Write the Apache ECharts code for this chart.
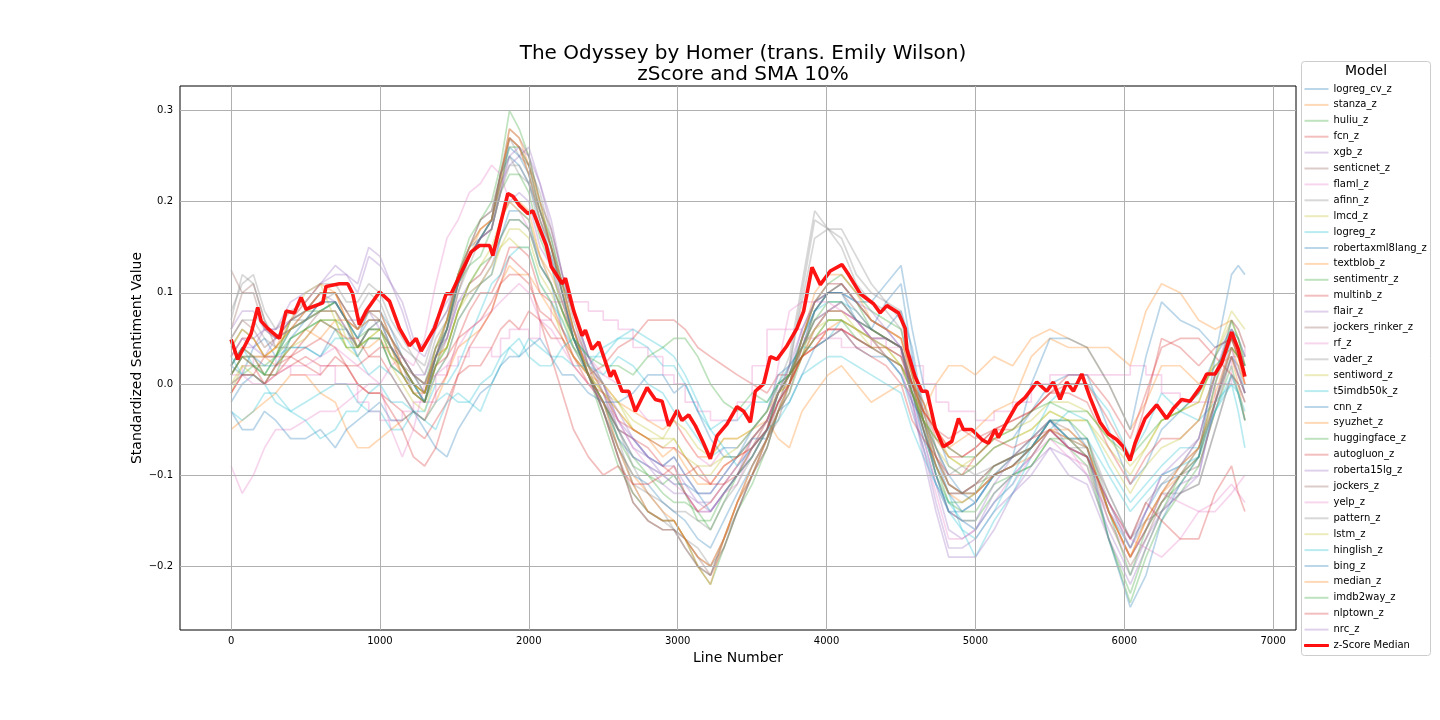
<!DOCTYPE html>
<html><head><meta charset="utf-8">
<script src="https://cdn.jsdelivr.net/npm/echarts@6/dist/echarts.min.js"></script>
<style>html,body{margin:0;padding:0;background:#fff}#c{width:1440px;height:720px}</style>
</head><body><div id="c"></div>
<script>
// sample positions (line numbers) and the in-between positions
const lineNumbers = [0,150,300,500,700,850,1000,1150,1300,1450,1600,1750,1870,2000,2150,2300,2500,2700,2900,3050,3220,3400,3600,3750,3920,4100,4300,4500,4650,4820,5000,5250,5500,5750,6040,6250,6500,6720,6810];
const lineNumbersMid = [75,225,400,600,775,925,1075,1225,1375,1525,1675,1810,1935,2075,2225,2400,2600,2800,2975,3135,3310,3500,3675,3835,4010,4200,4400,4575,4735,4910,5125,5375,5625,5895,6145,6375,6610,6765];

const logreg_cv_z = [0.02,0.04,0.03,0.07,0.09,0.05,0.08,0.03,-0.01,0.07, 0.15,0.18,0.25,0.22,0.14,0.05,-0.02,-0.08,-0.10,-0.11, -0.14,-0.10,-0.05,0.00,0.09,0.10,0.07,0.08,-0.03,-0.12, -0.13,-0.09,-0.04,-0.07,-0.18,-0.11,-0.07,0.03,-0.01];
const logreg_cv_z_mid = [0.01,0.05,0.06,0.08,0.07,0.08,0.06,0.01,0.03,0.12, 0.16,0.23,0.24,0.18,0.10,0.01,-0.06,-0.09,-0.11,-0.12, -0.12,-0.08,-0.02,0.05,0.10,0.09,0.06,0.04,-0.08,-0.14, -0.10,-0.07,-0.04,-0.14,-0.14,-0.10,-0.02,0.02];
const stanza_z = [-0.05,-0.03,-0.01,0.01,-0.02,-0.07,-0.06,-0.04,-0.04,0.01, 0.05,0.08,0.13,0.12,0.08,0.03,0.00,-0.03,-0.05,-0.06, -0.08,-0.06,-0.04,-0.07,-0.01,0.02,-0.02,0.00,-0.03,0.02, 0.01,0.02,0.06,0.04,-0.05,0.02,0.00,0.03,-0.04];
const stanza_z_mid = [-0.04,-0.02,0.01,-0.01,-0.05,-0.07,-0.05,-0.03,-0.02,0.04, 0.06,0.11,0.12,0.10,0.06,0.01,-0.02,-0.04,-0.04,-0.08, -0.06,-0.05,-0.06,-0.03,0.01,0.00,-0.01,-0.01,0.00,0.02, 0.03,0.05,0.05,0.00,-0.02,0.02,0.02,0.00];
const huliu_z = [0.00,0.02,0.03,0.07,0.09,0.04,0.06,0.02,-0.02,0.06, 0.16,0.20,0.30,0.25,0.15,0.05,-0.04,-0.12,-0.15,-0.17, -0.22,-0.14,-0.07,-0.01,0.08,0.11,0.06,0.04,-0.05,-0.14, -0.15,-0.10,-0.06,-0.09,-0.24,-0.15,-0.09,0.02,-0.04];
const huliu_z_mid = [0.01,0.02,0.06,0.08,0.07,0.06,0.04,0.00,0.02,0.12, 0.18,0.24,0.28,0.20,0.10,0.01,-0.09,-0.14,-0.15,-0.20, -0.18,-0.11,-0.03,0.03,0.10,0.09,0.05,0.00,-0.10,-0.15, -0.12,-0.09,-0.07,-0.17,-0.19,-0.12,-0.03,-0.01];
const fcn_z = [0.02,0.03,0.01,0.03,0.02,0.00,-0.01,-0.03,-0.06,-0.02, 0.02,0.04,0.07,0.08,0.05,0.03,0.02,0.05,0.07,0.06, 0.03,0.01,-0.01,0.01,0.04,0.06,0.04,0.02,-0.03,-0.06, -0.06,-0.04,-0.01,0.01,-0.06,0.04,0.05,0.01,-0.02];
const fcn_z_mid = [0.04,0.01,0.02,0.02,0.02,-0.01,-0.02,-0.05,-0.04,0.01, 0.02,0.06,0.06,0.07,0.05,0.01,0.04,0.07,0.07,0.04, 0.02,0.00,0.01,0.03,0.05,0.05,0.03,0.00,-0.05,-0.05, -0.05,-0.03,0.01,-0.02,-0.01,0.05,0.03,0.00];
const xgb_z = [0.06,0.08,0.06,0.10,0.13,0.11,0.14,0.09,0.04,0.09, 0.14,0.17,0.24,0.26,0.17,0.08,0.00,-0.07,-0.09,-0.10, -0.12,-0.08,-0.04,0.01,0.09,0.11,0.07,0.04,-0.07,-0.18, -0.17,-0.12,-0.07,-0.10,-0.21,-0.14,-0.10,0.05,0.01];
const xgb_z_mid = [0.08,0.06,0.09,0.11,0.12,0.15,0.11,0.05,0.07,0.11, 0.16,0.22,0.25,0.22,0.12,0.03,-0.04,-0.08,-0.08,-0.12, -0.10,-0.06,-0.01,0.06,0.10,0.09,0.06,-0.02,-0.13,-0.18, -0.14,-0.10,-0.08,-0.16,-0.17,-0.11,-0.02,0.03];
const senticnet_z = [0.125,0.11,0.04,0.06,0.08,0.04,0.06,0.02,-0.01,0.05, 0.14,0.17,0.27,0.23,0.15,0.06,-0.03,-0.13,-0.16,-0.17, -0.20,-0.13,-0.06,0.00,0.07,0.09,0.05,0.04,-0.05,-0.12, -0.11,-0.09,-0.05,-0.08,-0.19,-0.13,-0.09,0.03,-0.01];
const senticnet_z_mid = [0.10,0.07,0.04,0.08,0.06,0.06,0.04,0.01,0.02,0.10, 0.16,0.21,0.26,0.19,0.11,0.01,-0.08,-0.15,-0.16,-0.19, -0.17,-0.09,-0.04,0.04,0.08,0.07,0.05,0.00,-0.09,-0.12, -0.10,-0.07,-0.07,-0.14,-0.16,-0.10,-0.03,0.01];
const flaml_z = [-0.09,-0.10,-0.05,-0.04,-0.03,-0.01,0.00,0.03,0.05,0.16, 0.21,0.24,0.20,0.17,0.11,0.06,0.01,-0.02,-0.04,-0.06, -0.09,-0.07,-0.03,0.01,0.05,0.06,0.04,0.01,-0.06,-0.14, -0.16,-0.10,-0.06,-0.09,-0.19,-0.12,-0.14,-0.11,-0.13];
const flaml_z_mid = [-0.12,-0.07,-0.05,-0.03,-0.02,0.00,0.02,0.02,0.11,0.18, 0.22,0.23,0.19,0.14,0.08,0.03,0.00,-0.04,-0.04,-0.08, -0.07,-0.05,0.00,0.03,0.06,0.05,0.03,-0.02,-0.11,-0.15, -0.13,-0.08,-0.08,-0.15,-0.16,-0.13,-0.13,-0.12];
const afinn_z = [0.07,0.11,0.05,0.07,0.10,0.08,0.09,0.04,0.01,0.07, 0.15,0.19,0.27,0.24,0.16,0.08,-0.01,-0.11,-0.15,-0.18, -0.21,-0.14,-0.06,0.03,0.19,0.17,0.11,0.08,-0.02,-0.10, -0.10,-0.08,-0.04,-0.06,-0.18,-0.14,-0.11,0.01,-0.02];
const afinn_z_mid = [0.12,0.07,0.07,0.09,0.08,0.10,0.06,0.03,0.05,0.12, 0.18,0.23,0.25,0.21,0.11,0.02,-0.06,-0.14,-0.16,-0.20, -0.17,-0.10,0.00,0.11,0.17,0.14,0.09,0.02,-0.07,-0.09, -0.09,-0.06,-0.06,-0.13,-0.15,-0.12,-0.05,0.00];
const lmcd_z = [-0.01,0.02,0.03,0.10,0.07,0.03,0.05,0.00,-0.03,0.03, 0.09,0.12,0.17,0.16,0.10,0.04,-0.01,-0.05,-0.06,-0.05, -0.08,-0.06,-0.03,0.01,0.05,0.07,0.05,0.03,-0.02,-0.08, -0.09,-0.06,-0.03,-0.04,-0.10,-0.04,-0.02,0.07,0.02];
const lmcd_z_mid = [0.02,0.01,0.07,0.11,0.04,0.05,0.02,-0.02,0.01,0.07, 0.11,0.15,0.17,0.12,0.07,0.01,-0.02,-0.06,-0.04,-0.07, -0.06,-0.05,0.00,0.03,0.07,0.06,0.04,0.00,-0.05,-0.09, -0.07,-0.05,-0.04,-0.07,-0.07,-0.03,0.03,0.05];
const logreg_z = [-0.03,-0.03,-0.01,-0.02,0.00,-0.02,-0.03,-0.05,-0.04,-0.02, -0.02,0.00,0.04,0.05,0.03,0.02,0.04,0.05,0.02,0.00, -0.05,-0.04,-0.02,0.02,0.04,0.07,0.05,0.01,-0.07,-0.14, -0.17,-0.10,-0.02,0.00,-0.08,-0.01,-0.04,0.00,-0.07];
const logreg_z_mid = [-0.04,-0.01,-0.03,-0.01,0.00,-0.03,-0.05,-0.03,-0.05,-0.01, -0.03,0.02,0.03,0.04,0.03,0.02,0.05,0.04,0.02,-0.03, -0.04,-0.02,0.00,0.04,0.05,0.06,0.03,-0.03,-0.11,-0.16, -0.14,-0.06,0.00,-0.03,-0.05,-0.03,-0.02,-0.03];
const robertaxml8lang_z = [-0.02,0.01,0.02,0.04,0.06,0.03,0.05,0.01,-0.02,0.03, 0.09,0.12,0.19,0.18,0.11,0.04,-0.02,-0.06,-0.09,-0.10, -0.12,-0.08,-0.03,0.02,0.08,0.10,0.09,0.13,0.00,-0.09, -0.09,-0.06,0.00,0.01,-0.11,-0.05,-0.01,0.06,0.03];
const robertaxml8lang_z_mid = [0.00,0.00,0.04,0.03,0.06,0.05,0.02,0.00,0.01,0.07, 0.11,0.16,0.19,0.13,0.06,0.01,-0.05,-0.08,-0.08,-0.12, -0.10,-0.05,0.01,0.04,0.10,0.09,0.11,0.06,-0.05,-0.10, -0.07,-0.03,0.01,-0.05,-0.09,-0.03,0.03,0.05];
const textblob_z = [0.01,0.03,0.02,0.06,0.07,0.04,0.05,0.01,-0.01,0.04, 0.11,0.14,0.20,0.19,0.12,0.05,-0.01,-0.05,-0.08,-0.09, -0.11,-0.08,-0.04,0.00,0.04,0.07,0.05,0.02,-0.03,-0.07, -0.05,-0.02,0.05,0.04,0.02,0.11,0.07,0.07,0.04];
const textblob_z_mid = [0.03,0.03,0.04,0.05,0.07,0.04,0.03,-0.01,0.03,0.08, 0.12,0.18,0.20,0.14,0.09,0.02,-0.03,-0.06,-0.07,-0.11, -0.09,-0.07,-0.01,0.03,0.06,0.06,0.03,0.00,-0.05,-0.06, -0.03,0.03,0.04,0.04,0.08,0.10,0.06,0.06];
const sentimentr_z = [0.04,0.05,0.03,0.08,0.09,0.05,0.07,0.03,0.00,0.07, 0.14,0.18,0.26,0.24,0.16,0.06,-0.02,-0.09,-0.12,-0.13, -0.16,-0.10,-0.05,0.01,0.09,0.12,0.08,0.06,-0.04,-0.13, -0.12,-0.08,-0.04,-0.06,-0.21,-0.13,-0.08,0.04,0.01];
const sentimentr_z_mid = [0.06,0.03,0.07,0.08,0.07,0.06,0.05,0.01,0.04,0.11, 0.16,0.22,0.26,0.19,0.11,0.01,-0.06,-0.10,-0.13,-0.14, -0.13,-0.07,-0.01,0.05,0.11,0.10,0.07,0.01,-0.09,-0.13, -0.09,-0.07,-0.04,-0.14,-0.16,-0.11,-0.02,0.03];
const multinb_z = [-0.01,0.01,0.03,0.05,0.06,0.05,0.04,0.01,-0.02,0.03, 0.08,0.10,0.15,0.14,0.09,0.03,-0.02,-0.06,-0.09,-0.10, -0.11,-0.09,-0.04,0.01,0.06,0.08,0.06,0.04,-0.02,-0.08, -0.07,-0.05,-0.01,-0.02,-0.11,-0.06,-0.04,0.05,0.01];
const multinb_z_mid = [0.01,0.03,0.03,0.07,0.05,0.03,0.04,-0.01,0.02,0.05, 0.10,0.12,0.15,0.10,0.06,0.00,-0.05,-0.07,-0.10,-0.09, -0.11,-0.06,-0.01,0.03,0.08,0.07,0.05,0.00,-0.06,-0.08, -0.05,-0.03,-0.01,-0.07,-0.08,-0.06,0.01,0.03];
const flair_z = [0.02,0.04,0.06,0.08,0.09,0.07,0.06,0.03,0.01,0.05, 0.10,0.13,0.18,0.17,0.11,0.05,0.00,-0.06,-0.10,-0.12, -0.14,-0.10,-0.05,0.01,0.07,0.08,0.05,0.03,-0.06,-0.16, -0.16,-0.10,-0.05,-0.08,-0.17,-0.10,-0.06,0.07,0.04];
const flair_z_mid = [0.04,0.06,0.07,0.10,0.07,0.08,0.04,0.01,0.04,0.09, 0.11,0.16,0.18,0.13,0.08,0.02,-0.04,-0.08,-0.10,-0.14, -0.12,-0.08,-0.01,0.04,0.08,0.07,0.04,-0.01,-0.11,-0.17, -0.12,-0.08,-0.07,-0.13,-0.14,-0.08,0.01,0.06];
const jockers_rinker_z = [0.05,0.06,0.05,0.08,0.10,0.06,0.07,0.02,-0.01,0.06, 0.15,0.19,0.28,0.25,0.17,0.07,-0.03,-0.12,-0.15,-0.17, -0.21,-0.13,-0.06,0.01,0.09,0.11,0.07,0.05,-0.04,-0.11, -0.11,-0.08,-0.04,-0.07,-0.19,-0.12,-0.07,0.05,0.02];
const jockers_rinker_z_mid = [0.07,0.04,0.07,0.10,0.08,0.08,0.04,0.00,0.03,0.11, 0.18,0.23,0.27,0.20,0.12,0.02,-0.08,-0.14,-0.15,-0.19, -0.17,-0.10,-0.02,0.05,0.10,0.09,0.06,0.00,-0.08,-0.12, -0.09,-0.07,-0.05,-0.14,-0.16,-0.09,0.00,0.04];
const rf_z = [0.01,0.03,0.02,0.01,0.00,-0.02,-0.04,-0.03,-0.02,0.02, 0.04,0.03,0.06,0.05,0.09,0.09,0.07,0.04,0.01,-0.02, -0.04,-0.02,0.06,0.06,0.05,0.04,0.05,0.03,0.00,-0.03, -0.04,-0.02,0.01,0.01,0.02,-0.01,-0.02,0.03,0.04];
const rf_z_mid = [0.02,0.03,0.01,0.02,0.00,-0.03,-0.04,-0.02,0.01,0.03, 0.04,0.05,0.06,0.07,0.09,0.08,0.06,0.03,0.00,-0.03, -0.04,0.02,0.06,0.05,0.05,0.04,0.04,0.02,-0.02,-0.03, -0.03,0.00,0.01,0.01,0.01,-0.02,0.00,0.03];
const vader_z = [0.08,0.12,0.06,0.09,0.11,0.09,0.10,0.05,0.02,0.08, 0.15,0.18,0.25,0.22,0.15,0.08,0.00,-0.09,-0.14,-0.17, -0.20,-0.14,-0.07,0.02,0.18,0.16,0.10,0.07,-0.03,-0.11, -0.12,-0.09,-0.05,-0.07,-0.17,-0.11,-0.06,0.06,0.03];
const vader_z_mid = [0.11,0.08,0.08,0.11,0.09,0.11,0.07,0.03,0.06,0.12, 0.17,0.22,0.23,0.19,0.11,0.03,-0.05,-0.12,-0.16,-0.18, -0.18,-0.10,-0.03,0.10,0.17,0.12,0.09,0.02,-0.07,-0.12, -0.10,-0.07,-0.07,-0.12,-0.13,-0.09,0.01,0.05];
const sentiword_z = [0.00,0.01,0.02,0.05,0.07,0.04,0.06,0.02,-0.01,0.04, 0.10,0.13,0.16,0.15,0.09,0.03,-0.01,-0.05,-0.07,-0.08, -0.10,-0.08,-0.04,0.00,0.06,0.08,0.04,0.02,-0.04,-0.09, -0.09,-0.06,-0.03,-0.04,-0.12,-0.07,-0.04,0.05,0.01];
const sentiword_z_mid = [0.02,0.00,0.04,0.07,0.04,0.05,0.03,0.00,0.03,0.08, 0.11,0.15,0.15,0.11,0.05,0.01,-0.03,-0.06,-0.06,-0.10, -0.08,-0.06,-0.01,0.03,0.08,0.06,0.04,-0.01,-0.07,-0.10, -0.07,-0.05,-0.04,-0.08,-0.09,-0.06,0.01,0.03];
const t5imdb50k_z = [0.02,0.02,0.03,0.04,0.05,0.03,0.02,-0.01,-0.03,0.00, 0.05,0.11,0.14,0.15,0.09,0.04,0.01,0.02,-0.01,-0.04, -0.08,-0.07,-0.03,0.01,0.08,0.09,0.06,0.04,-0.06,-0.12, -0.19,-0.12,-0.05,-0.04,-0.13,-0.09,-0.07,0.00,-0.04];
const t5imdb50k_z_mid = [0.04,0.01,0.04,0.03,0.05,0.01,0.01,-0.03,0.00,0.02, 0.08,0.12,0.15,0.11,0.07,0.02,0.03,0.00,-0.03,-0.06, -0.07,-0.05,0.00,0.05,0.09,0.08,0.05,-0.01,-0.09,-0.16, -0.15,-0.08,-0.03,-0.09,-0.11,-0.07,-0.03,-0.01];
const cnn_z = [-0.03,-0.05,-0.04,-0.06,-0.07,-0.04,-0.02,-0.04,-0.05,-0.08, -0.03,0.00,0.03,0.04,0.03,0.01,-0.02,-0.01,0.01,0.00, -0.06,-0.08,-0.06,-0.02,0.04,0.06,0.03,0.01,-0.04,-0.10, -0.13,-0.08,0.05,0.04,-0.05,0.09,0.06,0.05,0.01];
const cnn_z_mid = [-0.05,-0.03,-0.06,-0.05,-0.05,-0.03,-0.04,-0.03,-0.07,-0.05, -0.01,0.02,0.03,0.05,0.01,-0.01,-0.02,0.01,-0.01,-0.03, -0.08,-0.06,-0.03,0.01,0.05,0.04,0.03,-0.02,-0.07,-0.12, -0.10,0.00,0.05,0.00,0.03,0.07,0.04,0.04];
const syuzhet_z = [0.03,0.05,0.04,0.09,0.10,0.06,0.08,0.03,0.00,0.07, 0.14,0.18,0.28,0.24,0.15,0.06,-0.03,-0.10,-0.14,-0.17, -0.22,-0.13,-0.06,0.00,0.10,0.12,0.07,0.05,-0.03,-0.11, -0.12,-0.09,-0.05,-0.07,-0.19,-0.12,-0.07,0.04,0.00];
const syuzhet_z_mid = [0.05,0.03,0.07,0.11,0.07,0.08,0.05,0.01,0.03,0.12, 0.17,0.22,0.27,0.20,0.10,0.01,-0.07,-0.12,-0.15,-0.20, -0.17,-0.10,-0.03,0.05,0.12,0.10,0.06,0.01,-0.08,-0.12, -0.10,-0.08,-0.05,-0.14,-0.15,-0.10,-0.02,0.03];
const huggingface_z = [0.02,0.03,0.01,0.06,0.07,0.04,0.06,0.02,-0.01,0.06, 0.13,0.17,0.23,0.21,0.13,0.05,-0.02,-0.08,-0.11,-0.12, -0.15,-0.10,-0.05,0.01,0.07,0.09,0.06,0.04,-0.05,-0.13, -0.14,-0.10,-0.06,-0.08,-0.23,-0.14,-0.08,0.07,0.02];
const huggingface_z_mid = [0.04,0.01,0.05,0.07,0.06,0.06,0.03,0.00,0.04,0.11, 0.14,0.21,0.23,0.16,0.08,0.01,-0.05,-0.10,-0.10,-0.15, -0.12,-0.08,-0.01,0.04,0.09,0.07,0.05,-0.01,-0.10,-0.14, -0.11,-0.09,-0.06,-0.17,-0.18,-0.10,0.00,0.05];
const autogluon_z = [0.01,0.02,0.01,0.04,0.04,0.02,0.03,-0.01,-0.04,0.01, 0.06,0.09,0.12,0.11,0.07,0.02,-0.01,-0.05,-0.07,-0.08, -0.11,-0.08,-0.05,0.00,0.05,0.06,0.04,0.03,-0.03,-0.07, -0.07,-0.04,-0.01,0.00,-0.08,0.05,0.02,0.05,0.00];
const autogluon_z_mid = [0.03,0.00,0.03,0.05,0.02,0.03,0.01,-0.03,-0.01,0.05, 0.07,0.11,0.12,0.08,0.05,0.00,-0.04,-0.06,-0.07,-0.10, -0.09,-0.07,-0.02,0.03,0.06,0.05,0.04,0.00,-0.05,-0.08, -0.05,-0.03,0.00,-0.04,-0.02,0.04,0.04,0.03];
const roberta15lg_z = [0.03,0.04,0.05,0.07,0.08,0.04,0.07,0.03,0.00,0.05, 0.11,0.14,0.20,0.20,0.13,0.06,0.00,-0.06,-0.09,-0.11, -0.13,-0.09,-0.04,0.01,0.06,0.09,0.05,0.04,-0.05,-0.14, -0.15,-0.08,-0.04,-0.08,-0.18,-0.10,-0.06,0.06,0.02];
const roberta15lg_z_mid = [0.05,0.03,0.06,0.08,0.06,0.06,0.05,0.01,0.03,0.09, 0.12,0.18,0.21,0.15,0.09,0.02,-0.03,-0.08,-0.09,-0.13, -0.11,-0.07,-0.01,0.04,0.08,0.07,0.05,-0.01,-0.10,-0.15, -0.11,-0.06,-0.07,-0.13,-0.14,-0.09,0.01,0.04];
const jockers_z = [0.06,0.10,0.05,0.08,0.10,0.06,0.08,0.02,-0.02,0.06, 0.14,0.18,0.27,0.24,0.15,0.05,-0.03,-0.13,-0.16,-0.18, -0.21,-0.14,-0.07,-0.01,0.08,0.10,0.06,0.04,-0.05,-0.12, -0.11,-0.08,-0.05,-0.08,-0.20,-0.13,-0.08,0.03,-0.01];
const jockers_z_mid = [0.10,0.06,0.06,0.10,0.08,0.08,0.05,-0.01,0.03,0.11, 0.16,0.23,0.26,0.19,0.10,0.01,-0.08,-0.15,-0.16,-0.20, -0.18,-0.10,-0.03,0.04,0.10,0.08,0.05,-0.01,-0.09,-0.12, -0.09,-0.07,-0.06,-0.15,-0.17,-0.10,-0.02,0.01];
const yelp_z = [0.00,0.00,0.01,0.02,0.04,0.02,0.00,-0.08,0.00,0.02, 0.06,0.08,0.10,0.10,0.06,0.02,-0.02,-0.07,-0.10,-0.12, -0.14,-0.11,-0.05,0.08,0.09,0.08,0.05,0.02,-0.07,-0.17, -0.16,-0.11,-0.05,-0.10,-0.17,-0.19,-0.14,-0.12,-0.10];
const yelp_z_mid = [0.01,0.00,0.02,0.03,0.03,0.01,-0.05,-0.05,0.01,0.04, 0.07,0.09,0.11,0.07,0.04,0.00,-0.04,-0.09,-0.11,-0.14, -0.12,-0.07,0.02,0.09,0.09,0.07,0.03,-0.03,-0.12,-0.17, -0.13,-0.08,-0.07,-0.14,-0.18,-0.17,-0.14,-0.11];
const pattern_z = [0.05,0.07,0.04,0.07,0.09,0.06,0.07,0.03,0.00,0.06, 0.13,0.17,0.24,0.22,0.14,0.05,-0.02,-0.11,-0.13,-0.14, -0.16,-0.11,-0.05,0.02,0.16,0.15,0.09,0.06,-0.04,-0.11, -0.12,-0.08,-0.04,-0.06,-0.17,-0.12,-0.11,0.01,-0.04];
const pattern_z_mid = [0.07,0.05,0.06,0.09,0.07,0.07,0.05,0.01,0.03,0.10, 0.16,0.21,0.24,0.17,0.09,0.01,-0.07,-0.12,-0.14,-0.15, -0.13,-0.08,-0.01,0.09,0.17,0.11,0.08,0.01,-0.08,-0.12, -0.10,-0.06,-0.06,-0.12,-0.15,-0.12,-0.05,-0.01];
const lstm_z = [0.01,0.03,0.04,0.07,0.08,0.04,0.06,0.01,-0.02,0.04, 0.11,0.15,0.20,0.18,0.11,0.04,0.00,-0.04,-0.06,-0.08, -0.09,-0.07,-0.03,0.01,0.06,0.07,0.05,0.02,-0.04,-0.08, -0.08,-0.05,-0.02,-0.03,-0.09,-0.04,-0.02,0.08,0.06];
const lstm_z_mid = [0.03,0.03,0.06,0.08,0.05,0.05,0.04,-0.01,0.02,0.08, 0.13,0.18,0.19,0.14,0.08,0.02,-0.02,-0.05,-0.06,-0.09, -0.08,-0.05,-0.01,0.04,0.07,0.06,0.04,-0.01,-0.06,-0.09, -0.06,-0.04,-0.02,-0.06,-0.07,-0.03,0.03,0.07];
const hinglish_z = [0.03,0.01,-0.02,-0.04,-0.05,-0.03,0.00,-0.02,-0.04,-0.01, -0.02,0.01,0.04,0.03,0.02,0.05,0.03,0.06,0.04,0.01, -0.05,-0.09,-0.05,-0.02,0.02,0.03,0.01,-0.01,-0.08,-0.13, -0.16,-0.11,-0.04,-0.06,-0.14,-0.10,-0.08,0.01,-0.03];
const hinglish_z_mid = [0.01,0.00,-0.03,-0.06,-0.03,-0.01,-0.02,-0.03,-0.02,-0.02, 0.00,0.03,0.05,0.02,0.04,0.03,0.05,0.05,0.03,-0.02, -0.07,-0.07,-0.04,0.01,0.03,0.02,0.00,-0.05,-0.11,-0.15, -0.13,-0.07,-0.06,-0.10,-0.12,-0.09,-0.03,-0.01];
const bing_z = [0.01,0.03,0.02,0.07,0.09,0.05,0.07,0.02,-0.02,0.06, 0.14,0.18,0.26,0.23,0.15,0.05,-0.03,-0.10,-0.13,-0.15, -0.18,-0.12,-0.06,0.00,0.08,0.10,0.06,0.11,-0.04,-0.14, -0.13,-0.09,-0.04,-0.07,-0.245,-0.15,-0.08,0.12,0.12];
const bing_z_mid = [0.03,0.02,0.05,0.09,0.07,0.07,0.04,0.00,0.03,0.11, 0.16,0.23,0.25,0.18,0.10,0.01,-0.07,-0.11,-0.14,-0.17, -0.15,-0.09,-0.03,0.05,0.10,0.07,0.09,0.03,-0.10,-0.14, -0.10,-0.07,-0.06,-0.17,-0.21,-0.11,0.03,0.13];
const median_z = [0.04,0.05,0.04,0.08,0.10,0.06,0.07,0.02,-0.01,0.07, 0.15,0.18,0.27,0.23,0.15,0.06,-0.02,-0.11,-0.15,-0.17, -0.20,-0.13,-0.06,0.00,0.09,0.11,0.07,0.05,-0.04,-0.12, -0.12,-0.09,-0.05,-0.07,-0.19,-0.12,-0.07,0.04,0.00];
const median_z_mid = [0.06,0.03,0.06,0.10,0.07,0.07,0.05,0.00,0.04,0.12, 0.17,0.23,0.26,0.18,0.11,0.01,-0.07,-0.14,-0.15,-0.19, -0.17,-0.09,-0.03,0.05,0.11,0.09,0.06,0.01,-0.09,-0.13, -0.10,-0.07,-0.06,-0.14,-0.15,-0.09,-0.01,0.02];
const imdb2way_z = [0.01,0.02,0.03,0.06,0.06,0.04,0.05,0.01,-0.02,0.04, 0.11,0.14,0.18,0.17,0.11,0.05,0.02,0.01,0.04,0.05, 0.00,-0.03,-0.02,0.01,0.05,0.07,0.04,0.02,-0.04,-0.07, -0.08,-0.05,-0.02,-0.03,-0.08,-0.04,-0.01,0.04,0.02];
const imdb2way_z_mid = [0.03,0.01,0.05,0.07,0.04,0.05,0.02,-0.01,0.02,0.08, 0.13,0.16,0.18,0.13,0.08,0.03,0.02,0.03,0.05,0.03, -0.02,-0.01,0.00,0.03,0.07,0.05,0.03,-0.01,-0.06,-0.08, -0.06,-0.03,-0.03,-0.06,-0.06,-0.03,0.02,0.03];
const nlptown_z = [-0.01,0.01,0.02,0.02,0.03,0.00,-0.01,-0.05,-0.09,-0.03, 0.04,0.08,0.14,0.12,0.03,-0.05,-0.10,-0.11,-0.10,-0.12, -0.13,-0.10,-0.05,0.00,0.04,0.06,0.03,0.00,-0.06,-0.10, -0.08,-0.07,-0.05,-0.08,-0.17,-0.15,-0.17,-0.09,-0.14];
const nlptown_z_mid = [0.01,0.00,0.03,0.01,0.02,-0.01,-0.03,-0.08,-0.07,0.01, 0.06,0.11,0.13,0.07,-0.01,-0.08,-0.09,-0.11,-0.09,-0.14, -0.11,-0.07,-0.02,0.03,0.06,0.04,0.02,-0.04,-0.08,-0.10, -0.06,-0.06,-0.07,-0.13,-0.13,-0.17,-0.12,-0.12];
const nrc_z = [0.03,0.05,0.05,0.09,0.12,0.10,0.13,0.08,0.03,0.08, 0.14,0.17,0.25,0.25,0.18,0.08,-0.01,-0.08,-0.11,-0.12, -0.14,-0.10,-0.04,0.02,0.09,0.11,0.08,0.04,-0.08,-0.19, -0.19,-0.12,-0.07,-0.11,-0.22,-0.14,-0.10,0.04,-0.01];
const nrc_z_mid = [0.05,0.06,0.07,0.11,0.12,0.14,0.11,0.04,0.06,0.11, 0.16,0.21,0.26,0.22,0.12,0.03,-0.05,-0.09,-0.12,-0.13, -0.12,-0.06,-0.01,0.06,0.11,0.09,0.06,-0.02,-0.14,-0.19, -0.16,-0.09,-0.10,-0.17,-0.18,-0.12,-0.02,0.01];

// z-Score Median (thick red line)
const medianLine = [0,45,67,134,179,202,246,325,370,425,470,504,616,638,728,784,817,862,907,997,1064,1131,1198,1243,1277,1366,1445,1478,1545,1613,1669,1736,1758,1859,1893,1937,1993,2027,2117,2150,2224,2246,2302,2358,2380,2425,2470,2548,2571,2626,2671,2716,2794,2850,2895,2940,2996,3029,3074,3119,3174,3219,3264,3331,3398,3443,3488,3521,3577,3622,3667,3734,3801,3846,3902,3958,4025,4103,4148,4226,4315,4360,4405,4483,4528,4539,4595,4640,4674,4729,4785,4841,4886,4919,4975,5043,5087,5132,5154,5210,5277,5333,5412,5479,5523,5568,5613,5658,5714,5770,5837,5893,5948,5993,6038,6072,6139,6217,6284,6329,6385,6441,6508,6553,6609,6654,6721,6765,6810];
const medianValue = [0.049,0.027,0.034,0.055,0.084,0.069,0.061,0.050,0.080,0.078,0.095,0.082,0.089,0.107,0.110,0.110,0.099,0.065,0.080,0.101,0.091,0.061,0.042,0.050,0.036,0.061,0.099,0.099,0.122,0.145,0.152,0.152,0.141,0.209,0.206,0.196,0.187,0.190,0.152,0.129,0.110,0.116,0.080,0.053,0.059,0.038,0.046,0.008,0.015,-0.008,-0.008,-0.030,-0.004,-0.017,-0.019,-0.046,-0.029,-0.040,-0.034,-0.046,-0.065,-0.082,-0.057,-0.044,-0.025,-0.030,-0.042,-0.008,0.000,0.030,0.027,0.042,0.061,0.080,0.128,0.109,0.124,0.131,0.120,0.099,0.088,0.078,0.086,0.078,0.061,0.038,0.008,-0.008,-0.008,-0.048,-0.069,-0.063,-0.038,-0.050,-0.050,-0.061,-0.065,-0.050,-0.059,-0.042,-0.023,-0.015,0.002,-0.008,0.002,-0.017,0.002,-0.008,0.011,-0.015,-0.042,-0.055,-0.061,-0.069,-0.084,-0.065,-0.038,-0.023,-0.038,-0.027,-0.017,-0.019,-0.004,0.011,0.011,0.023,0.057,0.038,0.008];

const modelNames = ['logreg_cv_z','stanza_z','huliu_z','fcn_z','xgb_z','senticnet_z','flaml_z','afinn_z','lmcd_z','logreg_z','robertaxml8lang_z','textblob_z','sentimentr_z','multinb_z','flair_z','jockers_rinker_z','rf_z','vader_z','sentiword_z','t5imdb50k_z','cnn_z','syuzhet_z','huggingface_z','autogluon_z','roberta15lg_z','jockers_z','yelp_z','pattern_z','lstm_z','hinglish_z','bing_z','median_z','imdb2way_z','nlptown_z','nrc_z'];
const modelValues = [logreg_cv_z,stanza_z,huliu_z,fcn_z,xgb_z,senticnet_z,flaml_z,afinn_z,lmcd_z,logreg_z,robertaxml8lang_z,textblob_z,sentimentr_z,multinb_z,flair_z,jockers_rinker_z,rf_z,vader_z,sentiword_z,t5imdb50k_z,cnn_z,syuzhet_z,huggingface_z,autogluon_z,roberta15lg_z,jockers_z,yelp_z,pattern_z,lstm_z,hinglish_z,bing_z,median_z,imdb2way_z,nlptown_z,nrc_z];
const modelMids = [logreg_cv_z_mid,stanza_z_mid,huliu_z_mid,fcn_z_mid,xgb_z_mid,senticnet_z_mid,flaml_z_mid,afinn_z_mid,lmcd_z_mid,logreg_z_mid,robertaxml8lang_z_mid,textblob_z_mid,sentimentr_z_mid,multinb_z_mid,flair_z_mid,jockers_rinker_z_mid,rf_z_mid,vader_z_mid,sentiword_z_mid,t5imdb50k_z_mid,cnn_z_mid,syuzhet_z_mid,huggingface_z_mid,autogluon_z_mid,roberta15lg_z_mid,jockers_z_mid,yelp_z_mid,pattern_z_mid,lstm_z_mid,hinglish_z_mid,bing_z_mid,median_z_mid,imdb2way_z_mid,nlptown_z_mid,nrc_z_mid];

const xTicks = [0,1000,2000,3000,4000,5000,6000,7000];
const yTicks = [-0.2,-0.1,0,0.1,0.2,0.3];

const tab10 = ['31,119,180','255,127,14','44,160,44','214,39,40','148,103,189','140,86,75','227,119,194','127,127,127','188,189,34','23,190,207'];
const FONT = 'DejaVu Sans';
const MEDIAN_COLOR = 'rgba(255,0,0,0.92)';

function buildData(vals, mids){
  const out = [];
  for (let k = 0; k < lineNumbers.length; k++){
    if (vals[k] !== undefined) out.push([lineNumbers[k], vals[k]]);
    if (k < lineNumbersMid.length && mids[k] !== undefined) out.push([lineNumbersMid[k], mids[k]]);
  }
  return out;
}

const series = [];
series.push({
  type:'line', name:'__grid', data:[[0,0]], symbol:'none', silent:true, z:1,
  lineStyle:{opacity:0}, tooltip:{show:false},
  markLine:{silent:true, symbol:['none','none'], label:{show:false}, animation:false,
    lineStyle:{color:'#b0b0b0', width:1, type:'solid'},
    data: xTicks.map(v=>({xAxis:v})).concat(yTicks.map(v=>({yAxis:v})))}
});
modelNames.forEach((n,i)=>{
  const c = 'rgba('+tab10[i%10]+',0.3)';
  series.push({
    type:'line', name:n, symbol:'none', z:2,
    step: n==='rf_z' ? 'end' : false,
    data: buildData(modelValues[i], modelMids[i]),
    lineStyle:{color:c, width:1.7}, itemStyle:{color:c}
  });
});
series.push({
  type:'line', name:'z-Score Median', symbol:'none', z:3,
  data: medianLine.map((x,k)=>[x, medianValue[k]]),
  lineStyle:{color:MEDIAN_COLOR, width:3.6}, itemStyle:{color:MEDIAN_COLOR}
});

const legendData = modelNames.map(n=>({name:n}));
legendData.push({name:'z-Score Median', itemStyle:{color:MEDIAN_COLOR, borderColor:MEDIAN_COLOR, borderWidth:1}});

const chart = echarts.init(document.getElementById('c'), null, {renderer:'canvas'});
chart.setOption({
  animation:false,
  backgroundColor:'#fff',
  title:{
    text:'The Odyssey by Homer (trans. Emily Wilson)\nzScore and SMA 10%',
    left:738, top:38, textAlign:'center',
    textStyle:{fontFamily:FONT, fontSize:20, fontWeight:'normal', color:'#000', lineHeight:21}
  },
  grid:{left:180, right:144, top:86, bottom:90, show:true, borderColor:'#000', borderWidth:1, backgroundColor:'transparent'},
  xAxis:{
    type:'value', min:-343, max:7153,
    name:'Line Number', nameLocation:'middle', nameGap:21, nameMoveOverlap:false,
    nameTextStyle:{fontFamily:FONT, fontSize:14, color:'#000'},
    axisLine:{show:false},
    splitLine:{show:false},
    axisTick:{show:true, inside:false, length:4, customValues:xTicks, lineStyle:{color:'#000'}},
    axisLabel:{customValues:xTicks, fontFamily:FONT, fontSize:10, color:'#000', margin:6, formatter:v=>String(Math.round(v))}
  },
  yAxis:{
    type:'value', min:-0.27, max:0.327,
    name:'Standardized Sentiment Value', nameLocation:'middle', nameGap:36, nameMoveOverlap:false,
    nameTextStyle:{fontFamily:FONT, fontSize:14, color:'#000'},
    axisLine:{show:false},
    splitLine:{show:false},
    axisTick:{show:true, inside:false, length:4, customValues:yTicks, lineStyle:{color:'#000'}},
    axisLabel:{customValues:yTicks, fontFamily:FONT, fontSize:10, color:'#000', margin:7,
      formatter:v=>(v<-1e-9?'\u2212':'')+Math.abs(v).toFixed(1)}
  },
  legend:{
    data: legendData,
    orient:'vertical', left:1304, top:83, padding:0,
    icon:'rect', itemWidth:24, itemHeight:2, itemGap:3.9,
    textStyle:{fontFamily:FONT, fontSize:10, color:'#000', lineHeight:12},
    selectedMode:false
  },
  graphic:[
    {type:'rect', left:1301, top:61, z:-1, shape:{width:129, height:594, r:3},
     style:{fill:'rgba(255,255,255,0.8)', stroke:'#cccccc', lineWidth:1}},
    {type:'text', left:1345, top:64, style:{text:'Model', font:'14px "DejaVu Sans"', fill:'#000'}}
  ],
  series: series
});
</script></body></html>
